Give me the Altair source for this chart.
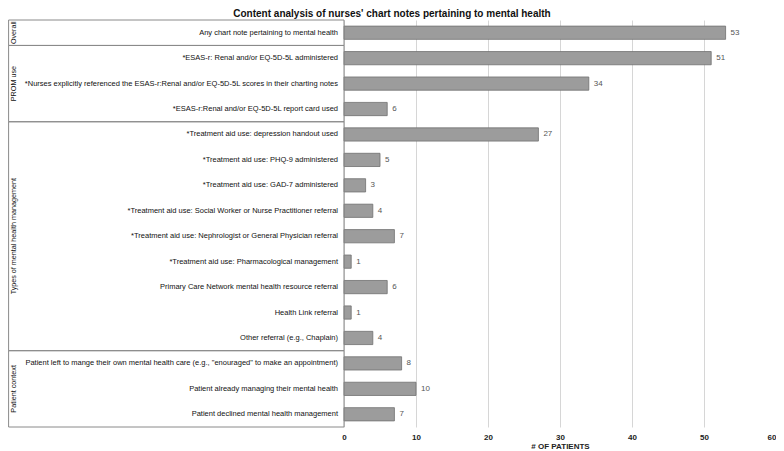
import altair as alt
import pandas as pd

categories = [
    "Any chart note pertaining to mental health",
    "*ESAS-r: Renal and/or EQ-5D-5L administered",
    "*Nurses explicitly referenced the ESAS-r:Renal and/or EQ-5D-5L scores in their charting notes",
    "*ESAS-r:Renal and/or EQ-5D-5L report card used",
    "*Treatment aid use: depression handout used",
    "*Treatment aid use: PHQ-9 administered",
    "*Treatment aid use: GAD-7 administered",
    "*Treatment aid use: Social Worker or Nurse Practitioner referral",
    "*Treatment aid use: Nephrologist or General Physician referral",
    "*Treatment aid use: Pharmacological management",
    "Primary Care Network mental health resource referral",
    "Health Link referral",
    "Other referral (e.g., Chaplain)",
    "Patient left to mange their own mental health care (e.g., \"enouraged\" to make an appointment)",
    "Patient already managing their mental health",
    "Patient declined mental health management",
]
values = [53, 51, 34, 6, 27, 5, 3, 4, 7, 1, 6, 1, 4, 8, 10, 7]
groups = (["Overall"] + ["PROM use"] * 3
          + ["Types of mental health management"] * 9
          + ["Patient context"] * 3)
x_ticks = [0, 10, 20, 30, 40, 50, 60]

TITLE = "Content analysis of nurses' chart notes pertaining to mental health"
FONT = "Liberation Sans"
XMIN = -46.67
W, H = 768, 407
PX = (W / (60 - XMIN))  # pixels per unit

df = pd.DataFrame({"cat": categories, "val": values, "grp": groups,
                   "idx": list(range(len(categories)))})
df["zero"] = 0
df["lo"] = df["idx"] - 0.26
df["hi"] = df["idx"] + 0.26

g = df.groupby("grp", sort=False)["idx"].agg(["min", "max"]).reset_index()
g["y0"] = g["min"] - 0.5
g["y1"] = g["max"] + 0.5
g["ym"] = (g["min"] + g["max"]) / 2
g["x0"] = XMIN + 0.6 / PX
g["x1"] = 0
g["xl"] = XMIN + 2 / PX

xs = alt.Scale(domain=[XMIN, 60], nice=False, zero=False)
ys = alt.Scale(domain=[-0.5, 15.5], reverse=True, nice=False, zero=False)
xaxis = alt.Axis(values=x_ticks, grid=True, gridColor="#d6d6d6", gridWidth=1,
                 domain=False, ticks=False, labelFont=FONT, labelFontSize=8,
                 labelFontWeight="bold", labelColor="#222", labelPadding=6,
                 labelFlush=True, labelOverlap=False,
                 title="# OF PATIENTS", titleFont=FONT, titleFontSize=8,
                 titleFontWeight="bold", titleColor="#222", titlePadding=1,
                 titleX=(344 - 8) + (432 / 2), titleAlign="center")

bars = alt.Chart(df).mark_rect(fill="#9c9c9c", stroke="#707070", strokeWidth=0.8).encode(
    x=alt.X("zero:Q", scale=xs, axis=xaxis),
    x2="val:Q",
    y=alt.Y("lo:Q", scale=ys, axis=None),
    y2="hi:Q",
)

vals = alt.Chart(df).mark_text(align="left", baseline="middle", dx=5, font=FONT,
                               fontSize=8, color="#555").encode(
    x=alt.X("val:Q", scale=xs),
    y=alt.Y("idx:Q", scale=ys),
    text="val:Q",
)

labels = alt.Chart(df).mark_text(align="right", baseline="middle", dx=-6, font=FONT,
                                 fontSize=7.5, color="#111").encode(
    x=alt.X("zero:Q", scale=xs),
    y=alt.Y("idx:Q", scale=ys),
    text="cat:N",
)

boxes = alt.Chart(g).mark_rect(fillOpacity=0, stroke="#8a8a8a", strokeWidth=1).encode(
    x=alt.X("x0:Q", scale=xs),
    x2="x1:Q",
    y=alt.Y("y0:Q", scale=ys),
    y2="y1:Q",
)

glabels = alt.Chart(g).mark_text(angle=270, align="center", baseline="top", font=FONT,
                                 fontSize=7.2, color="#111").encode(
    x=alt.X("xl:Q", scale=xs),
    y=alt.Y("ym:Q", scale=ys),
    text="grp:N",
)

chart = alt.layer(bars, boxes, vals, labels, glabels).properties(
    width=W, height=H,
    padding={"left": 0, "top": 0, "right": 0, "bottom": 0},
    title=alt.TitleParams(TITLE, font=FONT, fontSize=10, fontWeight="bold",
                          color="#111", anchor="middle", offset=1),
).configure_view(strokeWidth=0)

chart.save("out.html", embed_options={"renderer": "svg", "actions": False})
